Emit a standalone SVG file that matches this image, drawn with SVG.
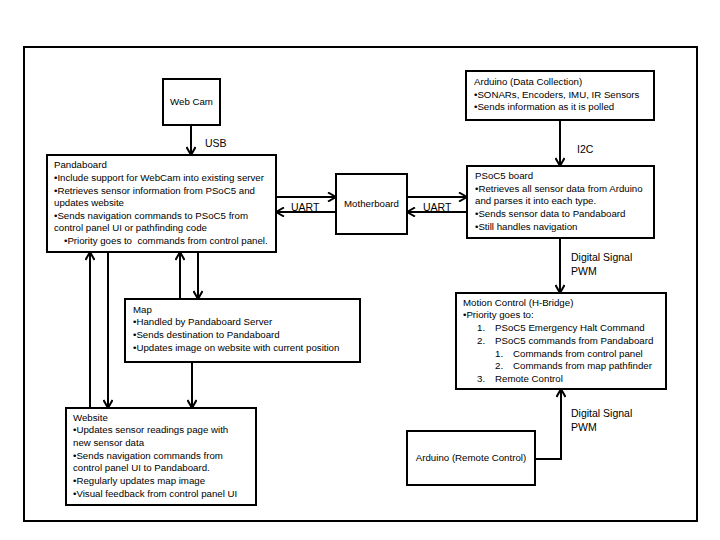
<svg xmlns="http://www.w3.org/2000/svg" width="720" height="540" viewBox="0 0 720 540">
<defs>
<marker id="ah" viewBox="0 0 10 10" refX="9" refY="5" markerWidth="10" markerHeight="10" markerUnits="userSpaceOnUse" orient="auto">
<path d="M1,0.5 L9,5 L1,9.5" fill="none" stroke="#000" stroke-width="2"/>
</marker>
<style>
.box{fill:#fff;stroke:#000;stroke-width:2}
.t{font-family:"Liberation Sans",Arial,sans-serif;font-size:9.7px;fill:#000;white-space:pre}
.l{font-family:"Liberation Sans",Arial,sans-serif;font-size:10.5px;fill:#000}
.c{fill:none;stroke:#000;stroke-width:2}
</style>
</defs>
<rect width="720" height="540" fill="#fff"/>
<rect x="24" y="47" width="673" height="474" fill="none" stroke="#000" stroke-width="2"/>
<g id="connectors">
<line class="c" x1="191" y1="125" x2="191" y2="155" marker-end="url(#ah)"/>
<line class="c" x1="276" y1="197" x2="336" y2="197" marker-end="url(#ah)"/>
<line class="c" x1="336" y1="212" x2="276" y2="212" marker-end="url(#ah)"/>
<line class="c" x1="407" y1="197" x2="467" y2="197" marker-end="url(#ah)"/>
<line class="c" x1="467" y1="212" x2="407" y2="212" marker-end="url(#ah)"/>
<line class="c" x1="560" y1="120" x2="560" y2="166" marker-end="url(#ah)"/>
<line class="c" x1="560" y1="238" x2="560" y2="293" marker-end="url(#ah)"/>
<polyline class="c" points="535,459 561,459 561,389" marker-end="url(#ah)"/>
<line class="c" x1="180" y1="299" x2="180" y2="252" marker-end="url(#ah)"/>
<line class="c" x1="198" y1="252" x2="198" y2="299" marker-end="url(#ah)"/>
<line class="c" x1="192" y1="362" x2="192" y2="408" marker-end="url(#ah)"/>
<line class="c" x1="90" y1="408" x2="90" y2="252" marker-end="url(#ah)"/>
<line class="c" x1="108" y1="252" x2="108" y2="408" marker-end="url(#ah)"/>
<text class="l" x="205" y="147">USB</text>
<text class="l" x="291" y="211">UART</text>
<text class="l" x="423" y="211">UART</text>
<text class="l" x="577" y="153">I2C</text>
<text class="l" x="571" y="261">Digital Signal</text>
<text class="l" x="571" y="275">PWM</text>
<text class="l" x="571" y="417">Digital Signal</text>
<text class="l" x="571" y="431">PWM</text>
</g>
<g id="webcam">
<rect class="box" x="163" y="79" width="57" height="46"/>
<text class="t" x="191.5" y="105" text-anchor="middle">Web Cam</text>
</g>
<g id="pandaboard">
<rect class="box" x="47" y="155" width="229" height="97"/>
<text class="t" x="54" y="168">Pandaboard</text>
<text class="t" x="54" y="181">•Include support for WebCam into existing server</text>
<text class="t" x="54" y="194">•Retrieves sensor information from PSoC5 and</text>
<text class="t" x="54" y="206">updates website</text>
<text class="t" x="54" y="219">•Sends navigation commands to PSoC5 from</text>
<text class="t" x="54" y="231">control panel UI or pathfinding code</text>
<text class="t" x="64" y="244">•Priority goes to  commands from control panel.</text>
</g>
<g id="motherboard">
<rect class="box" x="336" y="174" width="71" height="60"/>
<text class="t" x="371.5" y="207" text-anchor="middle">Motherboard</text>
</g>
<g id="arduino-data">
<rect class="box" x="466" y="71" width="188" height="49"/>
<text class="t" x="474" y="85">Arduino (Data Collection)</text>
<text class="t" x="474" y="98">•SONARs, Encoders, IMU, IR Sensors</text>
<text class="t" x="474" y="110">•Sends information as it is polled</text>
</g>
<g id="psoc5">
<rect class="box" x="467" y="166" width="187" height="72"/>
<text class="t" x="475" y="179">PSoC5 board</text>
<text class="t" x="475" y="192">•Retrieves all sensor data from Arduino</text>
<text class="t" x="475" y="204">and parses it into each type.</text>
<text class="t" x="475" y="217">•Sends sensor data to Pandaboard</text>
<text class="t" x="475" y="230">•Still handles navigation</text>
</g>
<g id="motion-control">
<rect class="box" x="456" y="293" width="210" height="96"/>
<text class="t" x="463" y="306">Motion Control (H-Bridge)</text>
<text class="t" x="463" y="318">•Priority goes to:</text>
<text class="t" x="477" y="331">1.</text><text class="t" x="495" y="331">PSoC5 Emergency Halt Command</text>
<text class="t" x="477" y="344">2.</text><text class="t" x="495" y="344">PSoC5 commands from Pandaboard</text>
<text class="t" x="495" y="357">1.</text><text class="t" x="513" y="357">Commands from control panel</text>
<text class="t" x="495" y="369">2.</text><text class="t" x="513" y="369">Commands from map pathfinder</text>
<text class="t" x="477" y="382">3.</text><text class="t" x="495" y="382">Remote Control</text>
</g>
<g id="arduino-remote">
<rect class="box" x="407" y="431" width="128" height="54"/>
<text class="t" x="471" y="461" text-anchor="middle">Arduino (Remote Control)</text>
</g>
<g id="map">
<rect class="box" x="125" y="299" width="235" height="63"/>
<text class="t" x="133" y="313">Map</text>
<text class="t" x="133" y="325">•Handled by Pandaboard Server</text>
<text class="t" x="133" y="338">•Sends destination to Pandaboard</text>
<text class="t" x="133" y="351">•Updates image on website with current position</text>
</g>
<g id="website">
<rect class="box" x="66" y="408" width="190" height="97"/>
<text class="t" x="73" y="421">Website</text>
<text class="t" x="73" y="433">•Updates sensor readings page with</text>
<text class="t" x="73" y="446">new sensor data</text>
<text class="t" x="73" y="459">•Sends navigation commands from</text>
<text class="t" x="73" y="471">control panel UI to Pandaboard.</text>
<text class="t" x="73" y="484">•Regularly updates map image</text>
<text class="t" x="73" y="497">•Visual feedback from control panel UI</text>
</g>
</svg>
